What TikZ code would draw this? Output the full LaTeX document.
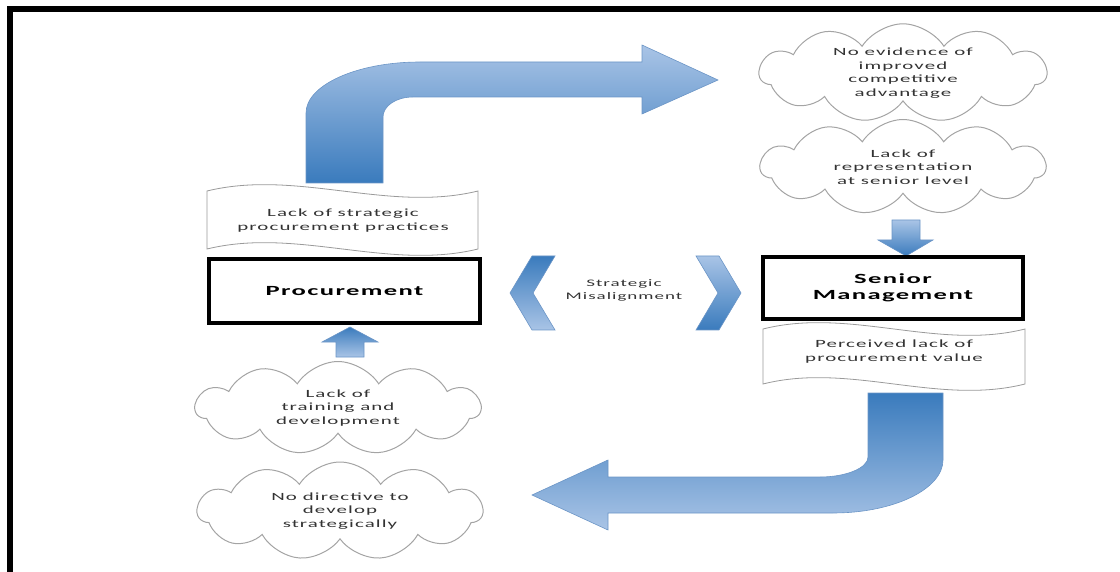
\documentclass[tikz,border=0pt]{standalone}
\usepackage{fontspec}
\setmainfont{Carlito}
\newfontfamily\wf[FakeStretch=1.9,LetterSpace=10]{Carlito}
\usetikzlibrary{shapes.symbols}
\definecolor{lightb}{HTML}{A9C4E6}
\definecolor{darkb}{HTML}{3A7BBD}
\definecolor{edgeb}{HTML}{6B95C6}
\definecolor{cloudgray}{HTML}{A4A4A4}
\definecolor{bannergray}{HTML}{9A9A9A}
\definecolor{txt}{HTML}{333333}
\begin{document}
\begin{tikzpicture}[x=1pt,y=-1pt,
  cloudbox/.style={cloud, cloud puffs=11, cloud puff arc=115, cloud ignores aspect,
    draw=cloudgray, line width=1pt, fill=white, align=center, text=txt, inner sep=0pt,
    font=\wf\fontsize{11}{13.5}\selectfont},
  mainbox/.style={draw=black, line width=3.5pt, fill=white, align=center, inner sep=0pt,
    font=\wf\bfseries\fontsize{14}{16}\selectfont},
  bannertext/.style={align=center, text=txt, inner sep=0pt, font=\wf\fontsize{11}{14}\selectfont},
  bannerline/.style={draw=bannergray, line width=0.8pt, fill=white},
  arrowdown/.style={top color=lightb, bottom color=darkb, draw=edgeb, line width=0.6pt},
  arrowup/.style={top color=darkb, bottom color=lightb, draw=edgeb, line width=0.6pt},
  midtext/.style={align=center, text=txt, inner sep=0pt, font=\wf\fontsize{10}{13}\selectfont}
]
\useasboundingbox (0,0) rectangle (1120,572);
% frame
\draw[line width=6pt, line join=miter] (10,572) -- (10,9) -- (1120,9);

% top bent arrow
\shade[arrowdown] (306,183) -- (306,113) .. controls (306,85) and (357,62) .. (420,62)
  -- (642,62) -- (642,45) -- (718,80) -- (642,114) -- (642,97) -- (413,97)
  .. controls (396,97) and (383,106) .. (383,117) -- (383,183) -- cycle;

% bottom bent arrow
\shade[arrowup] (868,393) -- (943,393) -- (943,460) .. controls (943,489) and (894,513) .. (833,513)
  -- (608,513) -- (608,530) -- (532,495) -- (608,460) -- (608,477) -- (820,477)
  .. controls (846,477) and (868,468) .. (868,457) -- cycle;

% small arrows
\shade[arrowdown] (892,220) -- (920,220) -- (920,240) -- (933,240) -- (906,256) -- (878,240) -- (892,240) -- cycle;
\shade[arrowup] (336,357) -- (364,357) -- (364,342) -- (378,342) -- (350,327) -- (322,342) -- (336,342) -- cycle;

% chevrons
\shade[arrowup] (510,293) -- (532,256) -- (555,256) -- (533,293) -- (555,330) -- (532,330) -- cycle;
\shade[arrowdown] (741,293) -- (719,256) -- (696,256) -- (718,293) -- (696,330) -- (719,330) -- cycle;
\node[midtext] (mis) at (624,290) {Strategic\\Misalignment};

% banners
\path[bannerline] (207,191) .. controls (297,169) and (388,213) .. (478,191) -- (478,249)
  .. controls (388,271) and (297,227) .. (207,249) -- cycle;
\node[bannertext] (b1) at (343,221) {Lack of strategic\\procurement practices};
\path[bannerline] (763,329) .. controls (850,307) and (938,351) .. (1025,329) -- (1025,384)
  .. controls (938,406) and (850,362) .. (763,384) -- cycle;
\node[bannertext] (b2) at (894,352) {Perceived lack of\\procurement value};

% main boxes
\node[mainbox, minimum width=271pt, minimum height=64pt] (proc) at (344.5,291) {Procurement};
\node[mainbox, minimum width=260pt, minimum height=62pt] (sm) at (893,288) {Senior\\Management};

% clouds
\node[cloudbox, minimum width=287pt, minimum height=97pt] (c1) at (903,73)
  {No evidence of\\improved\\competitive\\advantage};
\node[cloudbox, minimum width=285pt, minimum height=95pt] (c2) at (903,167)
  {Lack of\\representation\\at senior level};
\node[cloudbox, minimum width=285pt, minimum height=93pt] (c3) at (338,408)
  {Lack of\\training and\\development};
\node[cloudbox, minimum width=285pt, minimum height=98pt] (c4) at (340,511)
  {No directive to\\develop\\strategically};
\end{tikzpicture}
\end{document}
